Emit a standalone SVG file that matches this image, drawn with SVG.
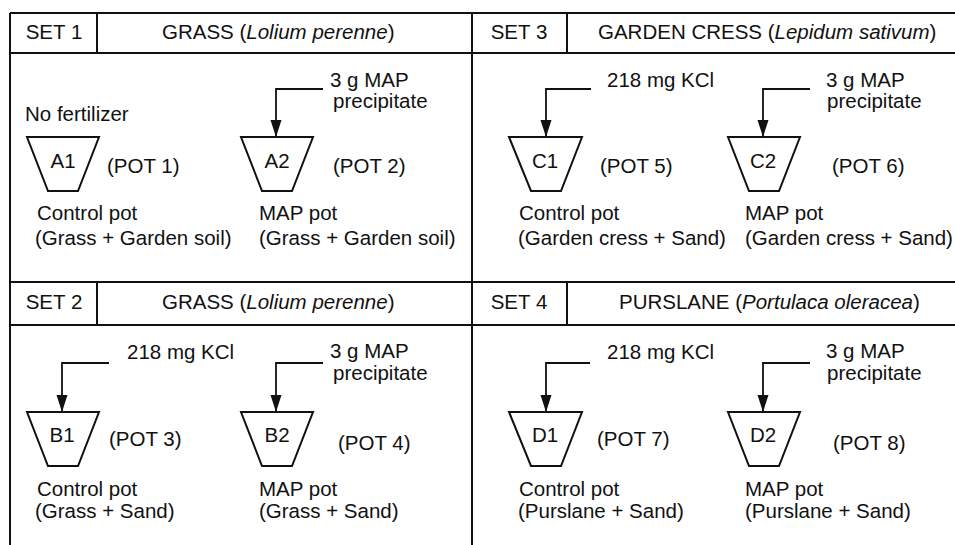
<svg xmlns="http://www.w3.org/2000/svg" width="955" height="545" viewBox="0 0 955 545">
<style>
text{font-family:"Liberation Sans",Arial,sans-serif;font-size:20.5px;fill:#111}
.m{text-anchor:middle}
.grid{stroke:#111;stroke-width:2;fill:none}
.pot{stroke:#111;stroke-width:2;fill:#fff;stroke-linejoin:miter}
.con{stroke:#111;stroke-width:1.8;fill:none}
</style>
<defs>
<marker id="ah" markerUnits="userSpaceOnUse" markerWidth="12" markerHeight="18" refX="6" refY="17" orient="0" viewBox="0 0 12 18">
<path d="M0.5,0 L11.5,0 L6,17 Z" fill="#111"/>
</marker>
</defs>
<rect width="955" height="545" fill="#fff"/>
<g id="grid" class="grid">
<path d="M10,13 H955 M10,53 H955 M10,282 H955 M10,325 H955"/>
<path d="M10,13 V545 M472,13 V545 M97,13 V53 M97,282 V325 M567,13 V53 M567,282 V325"/>
</g>
<g id="headers">
<g id="set1-header"><text class="m" x="54" y="39">SET 1</text><text x="162" y="39">GRASS (<tspan font-style="italic">Lolium perenne</tspan>)</text></g>
<g id="set3-header"><text class="m" x="519" y="39">SET 3</text><text x="598" y="39">GARDEN CRESS (<tspan font-style="italic">Lepidum sativum</tspan>)</text></g>
<g id="set2-header"><text class="m" x="54" y="309">SET 2</text><text x="162" y="309">GRASS (<tspan font-style="italic">Lolium perenne</tspan>)</text></g>
<g id="set4-header"><text class="m" x="519" y="309">SET 4</text><text x="619" y="309">PURSLANE (<tspan font-style="italic">Portulaca oleracea</tspan>)</text></g>
</g>
<g id="connectors" class="con">
<path d="M323,89 H276 V137" marker-end="url(#ah)"/>
<path d="M591,89 H546 V137" marker-end="url(#ah)"/>
<path d="M810,89 H763 V137" marker-end="url(#ah)"/>
<path d="M109,363 H62 V412" marker-end="url(#ah)"/>
<path d="M323,363 H276 V412" marker-end="url(#ah)"/>
<path d="M590,363 H546 V412" marker-end="url(#ah)"/>
<path d="M810,363 H763 V412" marker-end="url(#ah)"/>
</g>
<g id="pot1"><polygon class="pot" points="27,137 99,137 78,191 48,191"/><text class="m" x="63" y="168">A1</text><text x="107" y="173">(POT 1)</text></g>
<g id="pot2"><polygon class="pot" points="241,137 313,137 292,191 262,191"/><text class="m" x="277" y="168">A2</text><text x="333" y="173">(POT 2)</text></g>
<g id="pot5"><polygon class="pot" points="509,137 582,137 561,191 531,191"/><text class="m" x="545" y="168">C1</text><text x="600" y="173">(POT 5)</text></g>
<g id="pot6"><polygon class="pot" points="728,137 800,137 779,191 749,191"/><text class="m" x="763" y="168">C2</text><text x="832" y="173">(POT 6)</text></g>
<g id="pot3"><polygon class="pot" points="27,412 99,412 78,466 48,466"/><text class="m" x="62" y="442">B1</text><text x="109" y="446">(POT 3)</text></g>
<g id="pot4"><polygon class="pot" points="241,412 313,412 292,466 262,466"/><text class="m" x="277" y="442">B2</text><text x="338" y="450">(POT 4)</text></g>
<g id="pot7"><polygon class="pot" points="509,412 582,412 561,466 531,466"/><text class="m" x="545" y="442">D1</text><text x="597" y="446">(POT 7)</text></g>
<g id="pot8"><polygon class="pot" points="728,412 800,412 779,466 749,466"/><text class="m" x="763" y="442">D2</text><text x="833" y="450">(POT 8)</text></g>
<g id="inputs">
<text x="25" y="121">No fertilizer</text>
<text x="330" y="87">3 g MAP</text><text x="333" y="108">precipitate</text>
<text x="607" y="87">218 mg KCl</text>
<text x="826" y="87">3 g MAP</text><text x="827" y="108">precipitate</text>
<text x="127" y="359">218 mg KCl</text>
<text x="330" y="358">3 g MAP</text><text x="333" y="380">precipitate</text>
<text x="607" y="359">218 mg KCl</text>
<text x="826" y="358">3 g MAP</text><text x="827" y="380">precipitate</text>
</g>
<g id="captions">
<text x="37" y="220">Control pot</text><text x="35" y="245">(Grass + Garden soil)</text>
<text x="259" y="220">MAP pot</text><text x="259" y="245">(Grass + Garden soil)</text>
<text x="519" y="220">Control pot</text><text x="518" y="245">(Garden cress + Sand)</text>
<text x="745" y="220">MAP pot</text><text x="745" y="245">(Garden cress + Sand)</text>
<text x="37" y="496">Control pot</text><text x="35" y="518">(Grass + Sand)</text>
<text x="259" y="496">MAP pot</text><text x="259" y="518">(Grass + Sand)</text>
<text x="519" y="496">Control pot</text><text x="518" y="518">(Purslane + Sand)</text>
<text x="745" y="496">MAP pot</text><text x="745" y="518">(Purslane + Sand)</text>
</g>
</svg>
